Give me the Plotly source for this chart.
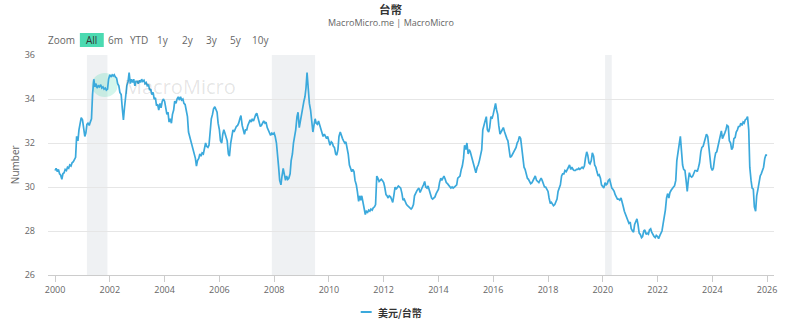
import pandas as pd
import plotly.graph_objects as go

# USD/TWD, sampled on the 1st and 15th of each month (2000-01-01 .. 2026-01-01)
usd_twd = [
    # 2000
    30.75, 30.85, 30.7, 30.8, 30.6, 30.55, 30.35, 30.6, 30.65, 30.8, 30.75, 30.9,
    30.85, 31.0, 30.95, 31.1, 31.15, 31.25, 31.35, 32.3, 32.1, 32.6, 32.95, 33.15,
    # 2001
    33.05, 32.7, 32.3, 32.45, 32.85, 32.9, 32.8, 32.95, 33.1, 34.2, 34.9, 34.55,
    34.7, 34.5, 34.6, 34.55, 34.65, 34.5, 34.55, 34.45, 34.5, 34.4, 34.45, 34.9,
    # 2002
    35.1, 35.0, 35.1, 35.05, 35.1, 35.0, 34.95, 34.7, 34.6, 34.3, 34.2, 33.6,
    33.05, 33.6, 34.3, 34.6, 34.8, 35.2, 34.7, 34.9, 34.75, 34.9, 34.6, 34.8,
    # 2003
    34.8, 34.7, 34.85, 34.75, 34.9, 34.8, 34.85, 34.7, 34.75, 34.6, 34.65, 34.4,
    34.45, 34.2, 34.3, 34.0, 34.05, 33.7, 33.75, 33.5, 33.8, 33.6, 33.9, 34.0,
    # 2004
    33.9, 33.5, 33.3, 33.4, 32.95, 33.1, 32.9, 33.3, 33.5, 33.9, 33.8, 34.0,
    34.1, 33.95, 34.1, 33.95, 34.0, 33.8, 33.75, 33.5, 33.2, 32.5, 32.3, 32.0,
    # 2005
    31.9, 31.7, 31.5, 31.3, 30.95, 31.2, 31.3, 31.5, 31.4, 31.55, 31.5, 31.7,
    32.0, 31.85, 31.8, 31.9, 32.6, 33.1, 33.3, 33.55, 33.65, 33.5, 33.4, 32.9,
    # 2006
    32.6, 32.1, 32.0, 32.4, 32.6, 32.45, 32.3, 32.1, 31.5, 31.4, 32.0, 32.4,
    32.6, 32.5, 32.7, 32.75, 32.8, 32.9, 33.1, 33.25, 32.8, 32.6, 32.4, 32.6,
    # 2007
    32.6, 32.8, 33.0, 33.05, 32.95, 33.1, 33.0, 33.2, 33.3, 33.35, 33.1, 33.0,
    32.75, 32.8, 32.9, 33.0, 32.9, 32.95, 32.7, 32.6, 32.4, 32.35, 32.45, 32.4,
    # 2008
    32.45, 32.3, 32.0, 31.6, 30.9, 30.3, 30.1, 30.5, 30.85, 30.6, 30.3, 30.5,
    30.35, 30.4, 30.6, 31.2, 31.5, 32.0, 32.3, 32.6, 33.2, 33.4, 32.7, 33.0,
    # 2009
    33.3, 33.6, 33.9, 34.1, 34.5, 35.2, 34.2, 33.8, 33.5, 32.9, 32.5, 32.8,
    33.1, 32.9, 32.85, 33.0, 32.8, 32.6, 32.5, 32.3, 32.4, 32.3, 32.2, 32.3,
    # 2010
    32.1, 31.9, 32.05, 32.0, 31.85, 31.8, 31.5, 31.45, 31.7, 32.3, 32.5, 32.3,
    32.2, 32.1, 32.0, 32.05, 31.8, 31.5, 31.0, 30.85, 30.7, 30.8, 30.7, 30.3,
    # 2011
    30.1, 29.8, 29.35, 29.6, 29.4, 29.6, 29.3, 28.95, 28.75, 28.9, 28.85, 28.95,
    28.9, 29.0, 28.95, 29.05, 29.1, 29.2, 30.5, 30.4, 30.25, 30.3, 30.35, 30.3,
    # 2012
    30.2, 30.0, 29.65, 29.6, 29.5, 29.6, 29.55, 29.45, 29.3, 29.6, 30.0, 29.9,
    30.0, 30.05, 30.0, 29.95, 29.7, 29.4, 29.45, 29.3, 29.2, 29.15, 29.1, 29.05,
    # 2013
    29.0, 29.05, 29.2, 29.6, 29.75, 29.8, 29.9, 29.95, 29.75, 29.9, 30.0, 30.1,
    30.25, 30.0, 29.95, 30.05, 29.85, 29.6, 29.5, 29.45, 29.5, 29.55, 29.7, 29.8,
    # 2014
    29.9, 30.2, 30.4, 30.3, 30.45, 30.5, 30.35, 30.2, 30.15, 30.1, 30.0, 29.95,
    30.0, 29.95, 30.0, 30.05, 30.1, 30.4, 30.45, 30.5, 30.8, 30.95, 31.3, 31.9,
    # 2015
    31.7, 32.0, 31.5, 31.7, 31.6, 31.4, 31.3, 31.1, 30.8, 30.65, 30.9, 31.0,
    31.2, 31.4, 31.7, 32.6, 32.9, 33.0, 33.2, 32.6, 32.5, 32.7, 33.2, 33.1,
    # 2016
    33.3, 33.6, 33.8, 33.5, 33.3, 32.8, 32.4, 32.5, 32.6, 32.7, 32.5, 32.3,
    32.2, 32.1, 31.6, 31.35, 31.4, 31.5, 31.6, 31.7, 31.8, 32.0, 32.1, 32.3,
    # 2017
    32.2, 31.8, 31.3, 30.9, 30.8, 30.6, 30.4, 30.35, 30.2, 30.15, 30.2, 30.3,
    30.45, 30.5, 30.3, 30.25, 30.2, 30.3, 30.4, 30.3, 30.1, 30.0, 30.0, 29.9,
    # 2018
    29.8, 29.5, 29.25, 29.3, 29.2, 29.15, 29.2, 29.3, 29.45, 29.8, 30.0, 30.1,
    30.5, 30.6, 30.6, 30.75, 30.7, 30.8, 30.9, 31.0, 30.8, 30.9, 30.8, 30.75,
    # 2019
    30.75, 30.8, 30.8, 30.85, 30.8, 30.85, 30.9, 30.85, 30.95, 31.3, 31.6, 31.45,
    31.1, 31.05, 31.2, 31.55, 31.4, 31.0, 30.9, 30.7, 30.5, 30.55, 30.4, 30.1,
    # 2020
    30.0, 29.95, 30.2, 30.1, 30.15, 30.3, 30.35, 30.1, 29.95, 29.9, 29.8, 29.65,
    29.5, 29.45, 29.45, 29.4, 29.5, 29.35, 29.1, 28.9, 28.75, 28.6, 28.5, 28.35,
    # 2021
    28.4, 28.1, 28.0, 27.95, 28.3, 28.45, 28.55, 28.3, 27.9, 27.85, 27.7, 27.75,
    28.0, 28.05, 27.85, 27.9, 27.85, 28.05, 28.1, 27.95, 27.8, 27.75, 27.7, 27.8,
    # 2022
    27.75, 27.65, 27.8, 27.9, 28.0, 28.3, 28.6, 28.95, 29.5, 29.7, 29.5, 29.75,
    29.85, 29.95, 30.0, 30.05, 30.3, 31.2, 31.7, 31.9, 32.3, 31.5, 31.0, 30.8,
    # 2023
    30.75, 30.35, 29.8, 30.3, 30.65, 30.5, 30.45, 30.5, 30.7, 30.75, 30.75, 30.7,
    30.9, 31.1, 31.6, 31.8, 31.85, 32.0, 32.2, 32.4, 32.3, 31.8, 31.3, 30.9,
    # 2024
    30.75, 30.85, 31.3, 31.55, 31.6, 31.85, 32.0, 32.4, 32.55, 32.2, 32.4, 32.45,
    32.6, 32.8, 32.75, 32.1, 32.0, 31.7, 31.8, 32.2, 32.25, 32.5, 32.6, 32.75,
    # 2025
    32.75, 32.9, 32.8, 32.95, 32.9, 33.05, 33.1, 33.2, 32.6, 30.9, 30.3, 29.95,
    29.9, 29.1, 28.9, 29.6, 29.9, 30.2, 30.5, 30.6, 30.75, 30.9, 31.3, 31.45,
    # 2026
    31.45,
]
dates = pd.date_range("2000-01-01", periods=len(usd_twd), freq="SMS")

series_name = "美元/台幣"
chart_title = "台幣"
source_text = "MacroMicro.me | MacroMicro"
recessions = [("2001-03-01", "2001-11-30"), ("2007-12-01", "2009-06-30"), ("2020-02-01", "2020-04-30")]
y_ticks = [26, 28, 30, 32, 34, 36]
x_tick_years = list(range(2000, 2027, 2))
range_labels = ["All", "6m", "YTD", "1y", "2y", "3y", "5y", "10y"]

LINE_COLOR = "#3ba9dc"
FONT = "Open Sans, Noto Sans CJK TC, sans-serif"
CJK = "Noto Sans CJK TC, sans-serif"

# plot box in pixels (used to place the decorations in paper units)
W, H = 785, 327
L, R, T, B = 48, 777, 55, 275


def px(x):
    return (x - L) / (R - L)


def py(y):
    return (B - y) / (B - T)


fig = go.Figure()
fig.add_trace(go.Scatter(
    x=dates, y=usd_twd, mode="lines", name=series_name,
    line=dict(color=LINE_COLOR, width=1.7), showlegend=False,
))

shapes = []
for start, end in recessions:
    shapes.append(dict(type="rect", xref="x", yref="paper", x0=start, x1=end, y0=0, y1=1,
                       fillcolor="#eff1f3", line=dict(width=0), layer="below"))

# watermark logo
shapes.append(dict(type="circle", xref="paper", yref="paper", xsizemode="pixel", ysizemode="pixel",
                   xanchor=px(105), yanchor=py(85), x0=-13, x1=13, y0=-12, y1=12,
                   fillcolor="rgba(61,214,170,0.22)", line=dict(width=0), layer="below"))

# active range button background
shapes.append(dict(type="rect", xref="paper", yref="paper", x0=px(80), x1=px(104), y0=py(47), y1=py(33),
                   fillcolor="#4bdab1", line=dict(width=0)))

# legend swatch
shapes.append(dict(type="line", xref="paper", yref="paper", x0=px(362), x1=px(373), y0=py(312), y1=py(312),
                   line=dict(color=LINE_COLOR, width=2)))

annotations = [
    dict(text="<b>" + chart_title + "</b>", x=px(392.5), y=py(9), xref="paper", yref="paper", showarrow=False,
         font=dict(size=11.5, color="#333333", family=CJK), xanchor="center", yanchor="middle"),
    dict(text=source_text, x=px(392.5), y=py(23), xref="paper", yref="paper", showarrow=False,
         font=dict(size=9, color="#666666", family=FONT), xanchor="center", yanchor="middle"),
    dict(text="Zoom", x=px(46), y=py(40), xref="paper", yref="paper", showarrow=False,
         font=dict(size=10, color="#666666", family=FONT), xanchor="left", yanchor="middle"),
    dict(text="Number", x=px(15), y=py(165), xref="paper", yref="paper", showarrow=False, textangle=-90,
         font=dict(size=10, color="#666666", family=FONT), xanchor="center", yanchor="middle"),
    dict(text="MacroMicro", x=px(181), y=py(86), xref="paper", yref="paper", showarrow=False,
         font=dict(size=20, color="rgba(0,0,0,0.11)", family=FONT), xanchor="center", yanchor="middle"),
    dict(text="<b>" + series_name + "</b>", x=px(377), y=py(312), xref="paper", yref="paper", showarrow=False,
         font=dict(size=10, color="#333333", family=CJK), xanchor="left", yanchor="middle"),
]

button_centers = [92, 116, 139.5, 163.5, 188.5, 212.5, 236.5, 261]
for label, cx in zip(range_labels, button_centers):
    annotations.append(dict(
        text=label, x=px(cx), y=py(40), xref="paper", yref="paper", showarrow=False,
        font=dict(size=10, color="#333333" if label == "All" else "#666666", family=FONT),
        xanchor="center", yanchor="middle"))

fig.update_layout(
    width=W, height=H,
    margin=dict(l=L, r=W - R, t=T, b=H - B, pad=0),
    paper_bgcolor="white", plot_bgcolor="white",
    xaxis=dict(
        type="date", range=["1999-09-29", "2026-04-03"],
        tickvals=[f"{yr}-01-01" for yr in x_tick_years], ticktext=[str(yr) for yr in x_tick_years],
        showgrid=False, zeroline=False, showline=True, linecolor="#cccccc", linewidth=1,
        ticks="outside", ticklen=6, tickcolor="#cccccc",
        tickfont=dict(size=9, color="#666666", family=FONT),
    ),
    yaxis=dict(
        range=[26, 36], tickvals=y_ticks, showgrid=True, gridcolor="#e6e6e6", gridwidth=1,
        zeroline=False, showline=False, ticks="", ticklabelstandoff=12,
        tickfont=dict(size=9, color="#666666", family=FONT),
    ),
    shapes=shapes, annotations=annotations, showlegend=False,
)

fig.write_html("out.html")
